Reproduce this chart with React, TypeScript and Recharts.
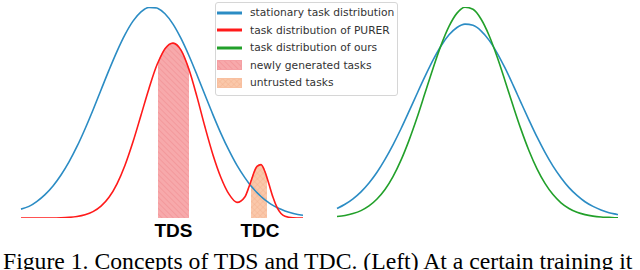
import { ComposedChart, Line, Area, XAxis, YAxis, Legend } from "recharts";

// left panel: stationary vs PURER (x in px-ish units across the panel)
const leftX = [0, 8, 16, 24, 32, 40, 48, 56, 64, 72, 80, 88, 96, 104, 112, 120, 128, 136, 137, 144, 152, 160, 168, 176, 184, 192, 200, 208, 216, 224, 228, 230, 232, 236, 240, 244, 246, 248, 252, 256, 260, 264, 272, 280, 282];
const stationaryLeft = [0.042, 0.055, 0.079, 0.111, 0.152, 0.204, 0.266, 0.339, 0.422, 0.512, 0.607, 0.701, 0.79, 0.869, 0.933, 0.977, 0.998, 0.995, 0.993, 0.968, 0.919, 0.851, 0.769, 0.678, 0.583, 0.489, 0.4, 0.32, 0.249, 0.19, 0.164, 0.152, 0.141, 0.12, 0.102, 0.086, 0.079, 0.072, 0.06, 0.05, 0.041, 0.033, 0.022, 0.014, 0.013];
const purer = [0, 0, 0, 0, 0, 0.001, 0.003, 0.007, 0.015, 0.03, 0.056, 0.098, 0.162, 0.25, 0.361, 0.487, 0.614, 0.726, 0.737, 0.802, 0.829, 0.796, 0.704, 0.574, 0.431, 0.299, 0.191, 0.113, 0.074, 0.101, 0.148, 0.175, 0.203, 0.245, 0.253, 0.219, 0.191, 0.16, 0.098, 0.05, 0.021, 0.008, 0.001, 0, 0];

// shaded ranges (same x units)
const tdsRange = [137, 168];
const tdcRange = [230, 246];

// right panel: stationary vs ours
const rightX = [0, 8, 16, 24, 32, 40, 48, 56, 64, 72, 80, 88, 96, 104, 112, 120, 128, 136, 144, 152, 160, 168, 176, 184, 192, 200, 208, 216, 224, 232, 240, 248, 256, 264, 272, 280, 281];
const stationaryRight = [0.045, 0.065, 0.091, 0.124, 0.166, 0.217, 0.278, 0.347, 0.423, 0.505, 0.589, 0.671, 0.748, 0.815, 0.868, 0.903, 0.919, 0.913, 0.887, 0.843, 0.783, 0.711, 0.631, 0.547, 0.464, 0.384, 0.311, 0.246, 0.191, 0.144, 0.107, 0.077, 0.055, 0.038, 0.025, 0.017, 0.016];
const ours = [0.007, 0.012, 0.021, 0.035, 0.057, 0.09, 0.135, 0.196, 0.274, 0.368, 0.475, 0.592, 0.709, 0.818, 0.908, 0.971, 0.999, 0.989, 0.943, 0.866, 0.765, 0.651, 0.533, 0.42, 0.319, 0.233, 0.164, 0.111, 0.072, 0.045, 0.027, 0.016, 0.009, 0.005, 0.003, 0.001, 0.001];

const tickPos = [152.5, 239];
const tickLabels = ["TDS", "TDC"];

const legendLabels = [
  "stationary task distribution",
  "task distribution of PURER",
  "task distribution of ours",
  "newly generated tasks",
  "untrusted tasks",
];
const legendKinds = ["line", "line", "line", "tds", "tdc"];

const BLUE = "#2b8cc4";
const RED = "#ff1a1a";
const GREEN = "#22a02a";

const inRange = (x: number, r: number[]) => x >= r[0] && x <= r[1];

const leftData = leftX.map((x, i) => ({
  x,
  stationary: stationaryLeft[i],
  purer: purer[i],
  tds: inRange(x, tdsRange) ? purer[i] : null,
  tdc: inRange(x, tdcRange) ? purer[i] : null,
}));

const rightData = rightX.map((x, i) => ({
  x,
  stationary: stationaryRight[i],
  ours: ours[i],
}));

const legendColors = [BLUE, RED, GREEN, "url(#tdsHatch)", "url(#tdcHatch)"];

function Patterns() {
  return (
    <defs>
      <pattern id="tdsHatch" width="4" height="4" patternUnits="userSpaceOnUse" patternTransform="rotate(-45)">
        <rect width="4" height="4" fill="#f7a9ab" />
        <line x1="0" y1="0" x2="0" y2="4" stroke="#f0898e" strokeWidth="1" />
      </pattern>
      <pattern id="tdcHatch" width="4" height="4" patternUnits="userSpaceOnUse" patternTransform="rotate(45)">
        <rect width="4" height="4" fill="#fac8aa" />
        <line x1="0" y1="0" x2="0" y2="4" stroke="#f4b08c" strokeWidth="0.8" />
        <line x1="0" y1="0" x2="4" y2="0" stroke="#f4b08c" strokeWidth="0.8" />
      </pattern>
    </defs>
  );
}

function LegendBox() {
  return (
    <div
      style={{
        border: "1px solid #d6d6d6",
        borderRadius: 3,
        background: "rgba(255,255,255,0.85)",
        padding: "1px 0 3px 0",
        fontFamily: "DejaVu Sans",
        fontSize: 10.7,
        color: "#333",
        boxSizing: "border-box",
      }}
    >
      {legendLabels.map((label, i) => (
        <div key={label} style={{ display: "flex", alignItems: "center", height: 17.5, whiteSpace: "nowrap" }}>
          <svg width={25} height={10} style={{ marginLeft: 1, marginRight: 8, flex: "none" }}>
            {legendKinds[i] === "line" ? (
              <line x1={0} y1={5} x2={25} y2={5} stroke={legendColors[i]} strokeWidth={3} />
            ) : (
              <rect x={0.5} y={0.5} width={24} height={9} fill={legendColors[i]} stroke={i === 3 ? "#f5a0a4" : "#f8c0a0"} strokeWidth={1} />
            )}
          </svg>
          <span>{label}</span>
        </div>
      ))}
    </div>
  );
}

export default function App() {
  return (
    <div style={{ position: "absolute", left: 0, top: 0, width: 640, height: 270, background: "#fff", overflow: "hidden" }}>
      <div style={{ position: "absolute", left: 0, top: 0, zIndex: 1 }}>
        <ComposedChart width={320} height={270} data={leftData} margin={{ top: 7, right: 17, bottom: 22, left: 21 }}>
          <Patterns />
          <XAxis
            dataKey="x"
            type="number"
            domain={[0, 282]}
            ticks={tickPos}
            tickFormatter={(v: number) => tickLabels[tickPos.indexOf(v)] ?? ""}
            interval={0}
            axisLine={false}
            tickLine={false}
            tickMargin={0}
            height={30}
            tick={{ fill: "#000", fontSize: 19, fontWeight: "bold", fontFamily: "Liberation Sans, Arial" }}
          />
          <YAxis hide domain={[0, 1]} allowDataOverflow />
          <Area dataKey="tds" type="monotone" fill="url(#tdsHatch)" stroke="#f5a0a4" strokeWidth={1} fillOpacity={1} isAnimationActive={false} dot={false} activeDot={false} />
          <Area dataKey="tdc" type="monotone" fill="url(#tdcHatch)" stroke="#f8c0a0" strokeWidth={1} fillOpacity={1} isAnimationActive={false} dot={false} activeDot={false} />
          <Line dataKey="stationary" type="monotone" stroke={BLUE} strokeWidth={1.6} dot={false} isAnimationActive={false} />
          <Line dataKey="purer" type="monotone" stroke={RED} strokeWidth={1.6} dot={false} isAnimationActive={false} />
          <Legend
            layout="horizontal"
            verticalAlign="middle"
            align="center"
            content={() => <LegendBox />}
            wrapperStyle={{ left: 215, top: 2, width: 183, bottom: "auto", right: "auto" }}
          />
        </ComposedChart>
      </div>
      <div style={{ position: "absolute", left: 320, top: 0 }}>
        <ComposedChart width={320} height={270} data={rightData} margin={{ top: 7, right: 22, bottom: 52, left: 17 }}>
          <XAxis dataKey="x" type="number" domain={[0, 281]} hide />
          <YAxis hide domain={[0, 1]} allowDataOverflow />
          <Line dataKey="stationary" type="monotone" stroke={BLUE} strokeWidth={1.6} dot={false} isAnimationActive={false} />
          <Line dataKey="ours" type="monotone" stroke={GREEN} strokeWidth={1.6} dot={false} isAnimationActive={false} />
        </ComposedChart>
      </div>
      <div
        style={{
          position: "absolute",
          left: 3,
          top: 250,
          fontFamily: "Liberation Serif, Times New Roman, serif",
          fontSize: 23.7,
          lineHeight: 1,
          whiteSpace: "nowrap",
          color: "#000",
        }}
      >
        Figure 1. Concepts of TDS and TDC. (Left) At a certain training it
      </div>
    </div>
  );
}
